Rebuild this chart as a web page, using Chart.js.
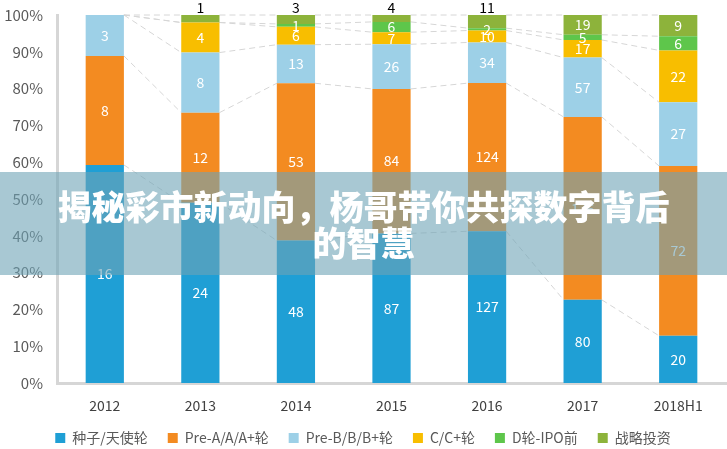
<!DOCTYPE html>
<html>
<head>
<meta charset="utf-8">
<script src="https://cdn.jsdelivr.net/npm/chart.js@4.4.0/dist/chart.umd.min.js"></script>
<style>
    html, body { margin: 0; padding: 0; background: #fff; }
    #wrap { position: relative; width: 727px; height: 449px; }
    #banner {
        position: absolute; left: 0; top: 172px; width: 727px; height: 103px;
        background: rgba(110, 163, 182, 0.6);
        display: flex; align-items: center; justify-content: center;
        box-sizing: border-box; padding: 0 45px;
        color: #fff; font-family: "Noto Sans CJK SC", sans-serif;
        font-size: 34px; font-weight: 900; line-height: 36px; text-align: center;
    }
</style>
</head>
<body>
<div id="wrap">
    <canvas id="rounds" width="727" height="449"></canvas>
    <div id="banner">揭秘彩市新动向，杨哥带你共探数字背后的智慧</div>
</div>
<script>
const years = ['2012', '2013', '2014', '2015', '2016', '2017', '2018H1'];
const seedRound = [16, 24, 48, 87, 127, 80, 20];
const preARound = [8, 12, 53, 84, 124, 176, 72];
const preBRound = [3, 8, 13, 26, 34, 57, 27];
const cRound = [0, 4, 6, 7, 10, 17, 22];
const dRound = [0, 0, 1, 6, 2, 5, 6];
const strategic = [0, 1, 3, 4, 11, 19, 9];
const yTicks = [0, 10, 20, 30, 40, 50, 60, 70, 80, 90, 100];

const seriesNames = ['种子/天使轮', 'Pre-A/A/A+轮', 'Pre-B/B/B+轮', 'C/C+轮', 'D轮-IPO前', '战略投资'];
const seriesValues = [seedRound, preARound, preBRound, cRound, dRound, strategic];
const colors = ['#1F9FD5', '#F38B21', '#9DD0E7', '#F8BE00', '#5EC64B', '#8DB33B'];

const totals = years.map((y, j) => seriesValues.reduce((s, arr) => s + arr[j], 0));
const FONT = '"Noto Sans CJK SC", sans-serif';

// dashed series lines between neighbouring bars
const seriesLines = {
    id: 'seriesLines',
    beforeDatasetsDraw(chart) {
        const ctx = chart.ctx;
        ctx.save();
        ctx.strokeStyle = '#d6d6d6';
        ctx.lineWidth = 1;
        ctx.setLineDash([6, 4]);
        chart.data.datasets.forEach((ds, i) => {
            const bars = chart.getDatasetMeta(i).data;
            for (let j = 0; j < bars.length - 1; j++) {
                const a = bars[j], b = bars[j + 1];
                ctx.beginPath();
                ctx.moveTo(a.x + a.width / 2, a.y);
                ctx.lineTo(b.x - b.width / 2, b.y);
                ctx.stroke();
            }
        });
        ctx.restore();
    }
};

// value labels (raw counts)
const valueLabels = {
    id: 'valueLabels',
    afterDatasetsDraw(chart) {
        const ctx = chart.ctx;
        ctx.save();
        ctx.font = '14px ' + FONT;
        ctx.textAlign = 'center';
        seriesValues.forEach((arr, i) => {
            const bars = chart.getDatasetMeta(i).data;
            arr.forEach((v, j) => {
                if (!v) return;
                const bar = bars[j];
                const pct = v / totals[j] * 100;
                if (i === 5 && pct < 4.5) {
                    ctx.fillStyle = '#000';
                    ctx.textBaseline = 'bottom';
                    ctx.fillText(v, bar.x, bar.y);
                } else {
                    ctx.fillStyle = '#fff';
                    ctx.textBaseline = 'middle';
                    ctx.fillText(v, bar.x, (bar.y + bar.base) / 2);
                }
            });
        });
        ctx.restore();
    }
};

// keep the wide item spacing but a shorter legend box
const legendHeight = {
    id: 'legendHeight',
    beforeUpdate(chart) {
        const legend = chart.legend;
        if (!legend || legend._patched) return;
        const fit = legend.fit;
        legend.fit = function() {
            fit.call(this);
            this.height = 38;
        };
        legend._patched = true;
    }
};

new Chart(document.getElementById('rounds'), {
    type: 'bar',
    data: {
        labels: years,
        datasets: seriesValues.map((arr, i) => ({
            label: seriesNames[i],
            data: arr.map((v, j) => v / totals[j] * 100),
            backgroundColor: colors[i],
            borderWidth: 0,
            barPercentage: 0.4,
            categoryPercentage: 1
        }))
    },
    options: {
        responsive: false,
        animation: false,
        layout: { padding: { top: 12, right: 1, left: 0, bottom: 0 } },
        plugins: {
            tooltip: { enabled: false },
            legend: {
                position: 'bottom',
                labels: {
                    boxWidth: 10,
                    boxHeight: 10,
                    padding: 20,
                    color: '#595959',
                    font: { family: FONT, size: 14 }
                }
            }
        },
        scales: {
            x: {
                stacked: true,
                grid: { display: false },
                border: { display: true, color: '#d6d6d6', width: 3 },
                afterFit(axis) { axis.height = 28; },
                ticks: { color: '#404040', padding: 6, font: { family: FONT, size: 14 } }
            },
            y: {
                stacked: true,
                min: 0,
                max: 100,
                afterBuildTicks(axis) { axis.ticks = yTicks.map(v => ({ value: v })); },
                afterFit(axis) { axis.width = 57; },
                grid: { display: false },
                border: { display: true, color: '#d6d6d6', width: 3 },
                ticks: {
                    color: '#595959',
                    padding: 6,
                    font: { family: FONT, size: 15 },
                    callback: v => v + '%'
                }
            }
        }
    },
    plugins: [seriesLines, valueLabels, legendHeight]
});
</script>
</body>
</html>
